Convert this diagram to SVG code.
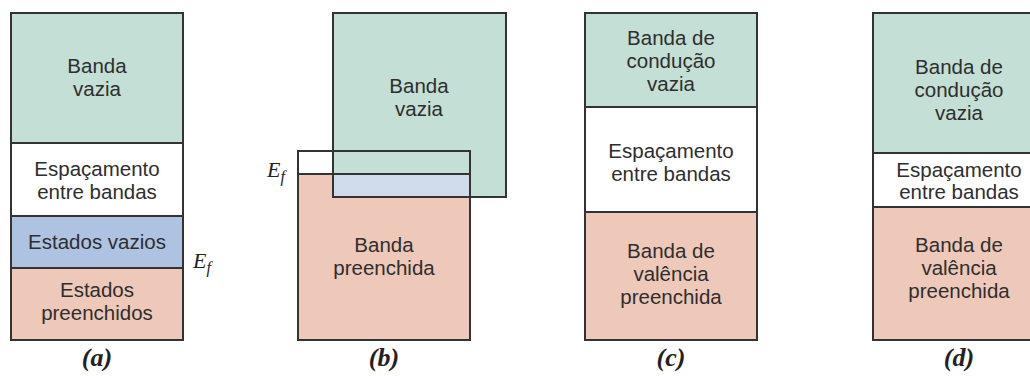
<svg xmlns="http://www.w3.org/2000/svg" width="1030" height="376" viewBox="0 0 1030 376">
<style>
.g{fill:#c4dfd5}.w{fill:#ffffff}.b{fill:#aec3e2}.p{fill:#eec8b8}.lb{fill:#d0dbec}
.o{fill:none;stroke:#333;stroke-width:2}
.t{font-family:"Liberation Sans",Arial,sans-serif;font-size:20.5px;fill:#2e2e2e;text-anchor:middle}
.ef{font-family:"Liberation Serif","Times New Roman",serif;font-style:italic;font-size:22px;fill:#222}
.lab{font-family:"Liberation Serif","Times New Roman",serif;font-style:italic;font-weight:bold;font-size:26px;fill:#222;text-anchor:middle}
</style>
<rect width="1030" height="376" fill="#fff"/>
<g id="panel-a">
  <g id="a-banda-vazia"><rect class="g" x="11" y="13" width="172" height="130"/><rect class="o" x="11" y="13" width="172" height="130"/>
    <text class="t" x="97" y="73">Banda</text><text class="t" x="97" y="96">vazia</text></g>
  <g id="a-espacamento"><rect class="w" x="11" y="143" width="172" height="73"/><rect class="o" x="11" y="143" width="172" height="73"/>
    <text class="t" x="97" y="176">Espaçamento</text><text class="t" x="97" y="199">entre bandas</text></g>
  <g id="a-estados-vazios"><rect class="b" x="11" y="216" width="172" height="52"/><rect class="o" x="11" y="216" width="172" height="52"/>
    <text class="t" x="97" y="249">Estados vazios</text></g>
  <g id="a-estados-preenchidos"><rect class="p" x="11" y="268" width="172" height="72"/><rect class="o" x="11" y="268" width="172" height="72"/>
    <text class="t" x="97" y="297">Estados</text><text class="t" x="97" y="320">preenchidos</text></g>
  <text class="ef" x="193" y="268">E<tspan font-size="16" dy="5">f</tspan></text>
  <text class="lab" x="97" y="366">(a)</text>
</g>
<g id="panel-b">
  <rect class="w" x="298" y="151" width="172" height="23"/>
  <rect class="p" x="298" y="174" width="172" height="166"/>
  <rect class="g" x="333" y="13" width="173" height="184"/>
  <rect class="lb" x="333" y="174" width="137" height="23"/>
  <g id="b-banda-vazia"><rect class="o" x="333" y="13" width="173" height="184"/>
    <text class="t" x="419" y="93">Banda</text><text class="t" x="419" y="116">vazia</text></g>
  <g id="b-banda-preenchida"><rect class="o" x="298" y="174" width="172" height="166"/>
    <text class="t" x="384" y="252">Banda</text><text class="t" x="384" y="275">preenchida</text></g>
  <g id="b-faixa"><rect class="o" x="298" y="151" width="172" height="23"/></g>
  <text class="ef" x="267" y="177">E<tspan font-size="16" dy="5">f</tspan></text>
  <text class="lab" x="384" y="366">(b)</text>
</g>
<g id="panel-c">
  <g id="c-conducao"><rect class="g" x="585" y="13" width="172" height="94"/><rect class="o" x="585" y="13" width="172" height="94"/>
    <text class="t" x="671" y="45">Banda de</text><text class="t" x="671" y="68">condução</text><text class="t" x="671" y="91">vazia</text></g>
  <g id="c-espacamento"><rect class="w" x="585" y="107" width="172" height="105"/><rect class="o" x="585" y="107" width="172" height="105"/>
    <text class="t" x="671" y="158">Espaçamento</text><text class="t" x="671" y="181">entre bandas</text></g>
  <g id="c-valencia"><rect class="p" x="585" y="212" width="172" height="128"/><rect class="o" x="585" y="212" width="172" height="128"/>
    <text class="t" x="671" y="258">Banda de</text><text class="t" x="671" y="281">valência</text><text class="t" x="671" y="304">preenchida</text></g>
  <text class="lab" x="671" y="366">(c)</text>
</g>
<g id="panel-d">
  <g id="d-conducao"><rect class="g" x="873" y="13" width="172" height="140"/><rect class="o" x="873" y="13" width="172" height="140"/>
    <text class="t" x="959" y="74">Banda de</text><text class="t" x="959" y="97">condução</text><text class="t" x="959" y="120">vazia</text></g>
  <g id="d-espacamento"><rect class="w" x="873" y="153" width="172" height="54"/><rect class="o" x="873" y="153" width="172" height="54"/>
    <text class="t" x="959" y="177">Espaçamento</text><text class="t" x="959" y="199">entre bandas</text></g>
  <g id="d-valencia"><rect class="p" x="873" y="207" width="172" height="133"/><rect class="o" x="873" y="207" width="172" height="133"/>
    <text class="t" x="959" y="252">Banda de</text><text class="t" x="959" y="275">valência</text><text class="t" x="959" y="298">preenchida</text></g>
  <text class="lab" x="959" y="366">(d)</text>
</g>
<g id="connectors"/>
</svg>
